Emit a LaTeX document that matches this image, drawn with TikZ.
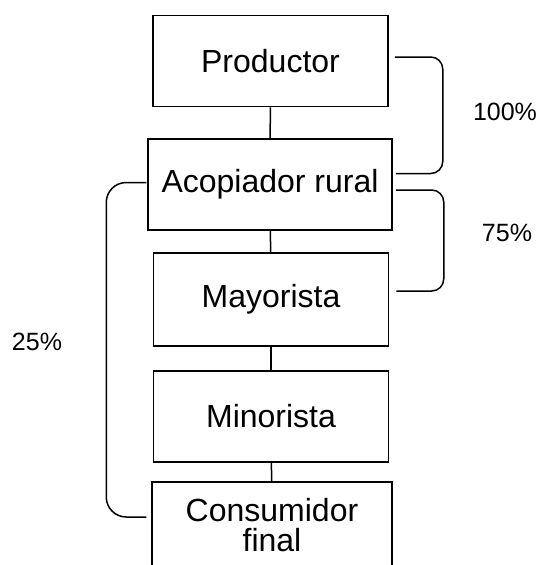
\documentclass[tikz,border=0pt]{standalone}
\usepackage{fontspec}
\setmainfont{Liberation Sans}

\begin{document}
\begin{tikzpicture}[x=1pt,y=-1pt,line width=1.5pt,
etapa/.style={draw,minimum width=235pt,minimum height=91pt,inner sep=0pt,align=center,font=\fontsize{32}{30}\selectfont},
llave/.style={rounded corners=12pt},
pct/.style={font=\fontsize{25}{30}\selectfont}]
\useasboundingbox (0,0) rectangle (540,565);
\clip (0,0) rectangle (540,565);
\node [etapa] (prod) at (270.5,61) {Productor};
\node [etapa,minimum width=244pt] (acop) at (270,184.5) {Acopiador rural};
\node [etapa,minimum height=93pt] (mayo) at (271,299.5) {Mayorista};
\node [etapa] (mino) at (271,416.5) {Minorista};
\node [etapa,minimum width=240pt,minimum height=86pt] (cons) at (272,525) {Consumidor\\final};
\draw (prod) -- (acop);
\draw (acop) -- (mayo);
\draw (mayo) -- (mino);
\draw (mino) -- (cons);
\draw [llave] ([shift={(6pt,4pt)}]prod.east) -- ++(48,0) |- ([shift={(3pt,11pt)}]acop.east);
\draw [llave] ([shift={(3pt,-5.5pt)}]acop.east) -- ++(48,0) |- ([shift={(7pt,8.5pt)}]mayo.east);
\draw [llave,rounded corners=20pt] ([shift={(-1pt,2pt)}]acop.west) -- ++(-40,0) |- ([shift={(-5pt,8pt)}]cons.west);
\node [pct] (cien) at (505,112) {100\%};
\node [pct] (setenta) at (507,233) {75\%};
\node [pct] (veinte) at (37,342) {25\%};
\end{tikzpicture}
\end{document}
